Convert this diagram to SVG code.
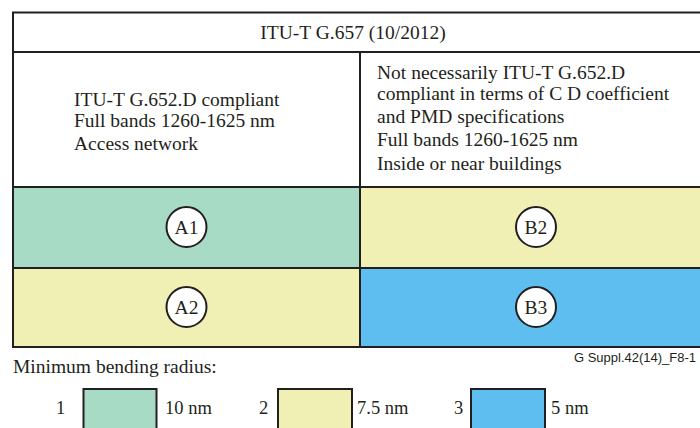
<svg xmlns="http://www.w3.org/2000/svg" width="700" height="428" viewBox="0 0 700 428">
<style>
.t{font-family:"Liberation Serif","Times New Roman",serif;font-size:19.5px;fill:#231f20}
.l{font-size:18.5px}
.s{font-family:"Liberation Sans",Arial,sans-serif;font-size:13px;fill:#231f20}
.ln{stroke:#231f20;stroke-width:2;fill:none}
.c{fill:#fff;stroke:#231f20;stroke-width:2}
.g{fill:#a8dbc6}.y{fill:#f0f0b4}.b{fill:#5ebef0}
</style>
<rect width="700" height="428" fill="#fff"/>
<g id="cells">
<rect class="g" x="13" y="187" width="347" height="81"/>
<rect class="y" x="13" y="268" width="347" height="79"/>
<rect class="y" x="360" y="187" width="345" height="81"/>
<rect class="b" x="360" y="268" width="345" height="79"/>
</g>
<g id="grid">
<rect class="ln" x="13" y="12.5" width="700" height="334.5"/>
<line class="ln" x1="13" y1="52" x2="705" y2="52"/>
<line class="ln" x1="360" y1="52" x2="360" y2="347"/>
<line class="ln" x1="13" y1="187" x2="705" y2="187"/>
<line class="ln" x1="13" y1="268" x2="705" y2="268"/>
</g>
<g id="title"><text class="t" x="353" y="39" text-anchor="middle">ITU-T G.657 (10/2012)</text></g>
<g id="colA">
<text class="t" x="74" y="106">ITU-T G.652.D compliant</text>
<text class="t" x="74" y="127">Full bands 1260-1625 nm</text>
<text class="t" x="74" y="150">Access network</text>
</g>
<g id="colB">
<text class="t" x="377" y="79">Not necessarily ITU-T G.652.D</text>
<text class="t" x="377" y="100">compliant in terms of C D coefficient</text>
<text class="t" x="377" y="123">and PMD specifications</text>
<text class="t" x="377" y="146">Full bands 1260-1625 nm</text>
<text class="t" x="377" y="170">Inside or near buildings</text>
</g>
<g id="A1"><circle class="c" cx="186.5" cy="227" r="20"/><text class="t" x="186.5" y="233.5" text-anchor="middle">A1</text></g>
<g id="A2"><circle class="c" cx="186.5" cy="307" r="20"/><text class="t" x="186.5" y="313.5" text-anchor="middle">A2</text></g>
<g id="B2"><circle class="c" cx="536" cy="227" r="20"/><text class="t" x="536" y="233.5" text-anchor="middle">B2</text></g>
<g id="B3"><circle class="c" cx="536" cy="307" r="20"/><text class="t" x="536" y="313.5" text-anchor="middle">B3</text></g>
<g id="legend">
<text class="t" x="13" y="373">Minimum bending radius:</text>
<text class="s" x="574" y="362" textLength="122" lengthAdjust="spacingAndGlyphs">G Suppl.42(14)_F8-1</text>
<text class="t l" x="56" y="414">1</text>
<rect class="g" x="83.5" y="389" width="73" height="45" stroke="#231f20" stroke-width="2"/>
<text class="t l" x="165" y="414">10 nm</text>
<text class="t l" x="259" y="414">2</text>
<rect class="y" x="278" y="389" width="74" height="45" stroke="#231f20" stroke-width="2"/>
<text class="t l" x="357" y="414">7.5 nm</text>
<text class="t l" x="454" y="414">3</text>
<rect class="b" x="471" y="389" width="74" height="45" stroke="#231f20" stroke-width="2"/>
<text class="t l" x="551" y="414">5 nm</text>
</g>
</svg>
